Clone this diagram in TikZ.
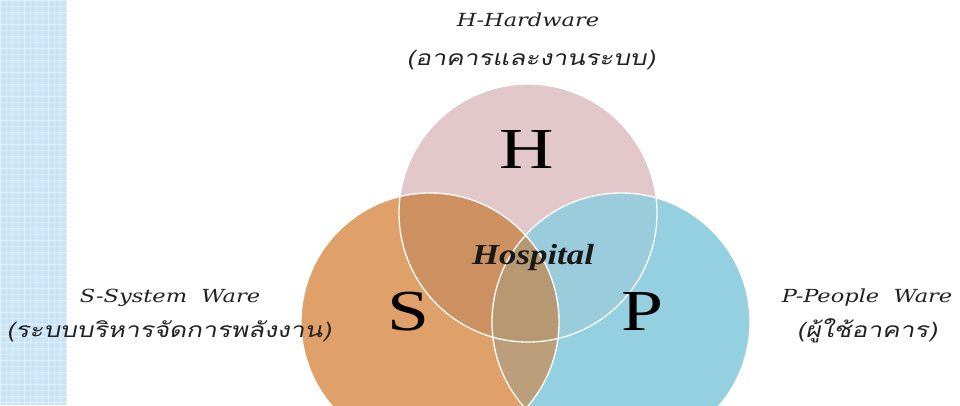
\documentclass[tikz,border=0pt]{standalone}
\usepackage{fontspec}
\setmainfont{DejaVu Serif}
\newfontfamily\lblfont[FakeStretch=1.25]{DejaVu Serif}
\newfontfamily\thaifont[Script=Thai,FakeSlant=0.2,FakeStretch=1.25]{Loma}
\newfontfamily\bigfont[FakeStretch=1.3]{Liberation Serif}
\newfontfamily\hospfont[FakeStretch=1.2]{Liberation Serif}
\definecolor{stripblue}{HTML}{C9E3F8}
\definecolor{hcol}{HTML}{E2C8CB}
\definecolor{scol}{HTML}{DFA06A}
\definecolor{pcol}{HTML}{95D0E1}
\definecolor{shcol}{HTML}{CD9060}
\definecolor{hpcol}{HTML}{9ACCDB}
\definecolor{spcol}{HTML}{BB9F7A}
\definecolor{shpcol}{HTML}{B69872}
\definecolor{txt}{HTML}{222222}
\tikzset{
  lbl/.style={font=\fontsize{18}{20}\selectfont\lblfont\itshape, text=txt, inner sep=0pt},
  thai/.style={font=\fontsize{21}{24}\selectfont\thaifont, text=txt, inner sep=0pt},
  letter/.style={font=\fontsize{58}{60}\selectfont\bigfont, text=black, inner sep=0pt},
  rim/.style={draw=white, line width=1.3pt}
}
\begin{document}
\begin{tikzpicture}[x=1pt,y=-1pt]
\useasboundingbox (0,0) rectangle (960,405);
% left strip with grid
\fill[stripblue] (0,0) rectangle (67,405);
\begin{scope}
\clip (0,0) rectangle (67,405);
\foreach \i in {0,6,...,66} {\draw[white, opacity=0.45, line width=0.4pt] (\i,0) -- (\i,405);}
\foreach \j in {0,6,...,405} {\draw[white, opacity=0.45, line width=0.4pt] (0,\j) -- (67,\j);}
\end{scope}
% circles
\coordinate (hc) at (528,213);
\coordinate (sc) at (430,322);
\coordinate (pc) at (621,322);
\def\R{129}
\fill[hcol] (hc) circle[radius=\R];
\fill[scol] (sc) circle[radius=\R];
\fill[pcol] (pc) circle[radius=\R];
\begin{scope}
\clip (hc) circle[radius=\R];
\fill[shcol] (sc) circle[radius=\R];
\fill[hpcol] (pc) circle[radius=\R];
\end{scope}
\begin{scope}
\clip (sc) circle[radius=\R];
\fill[spcol] (pc) circle[radius=\R];
\clip (pc) circle[radius=\R];
\fill[shpcol] (hc) circle[radius=\R];
\end{scope}
\draw[rim] (hc) circle[radius=\R];
\draw[rim] (sc) circle[radius=\R];
\draw[rim] (pc) circle[radius=\R];
% letters
\node[letter] (H) at (527,150) {H};
\node[letter] (S) at (408,312) {S};
\node[letter] (P) at (642,312) {P};
\node[font=\fontsize{29}{31}\selectfont\hospfont\bfseries\itshape, text=black!90, inner sep=0pt] (hosp) at (533,258) {Hospital};
% labels
\node[lbl] (hl) at (528,20) {H-Hardware};
\node[thai] (ht) at (531,60) {(อาคารและงานระบบ)};
\node[lbl] (sl) at (170,298) {S-System\ \ Ware};
\node[thai] (st) at (169,331) {(ระบบบริหารจัดการพลังงาน)};
\node[lbl] (pl) at (867,298) {P-People\ \ Ware};
\node[thai] (pt) at (867,331) {(ผู้ใช้อาคาร)};
\end{tikzpicture}
\end{document}
